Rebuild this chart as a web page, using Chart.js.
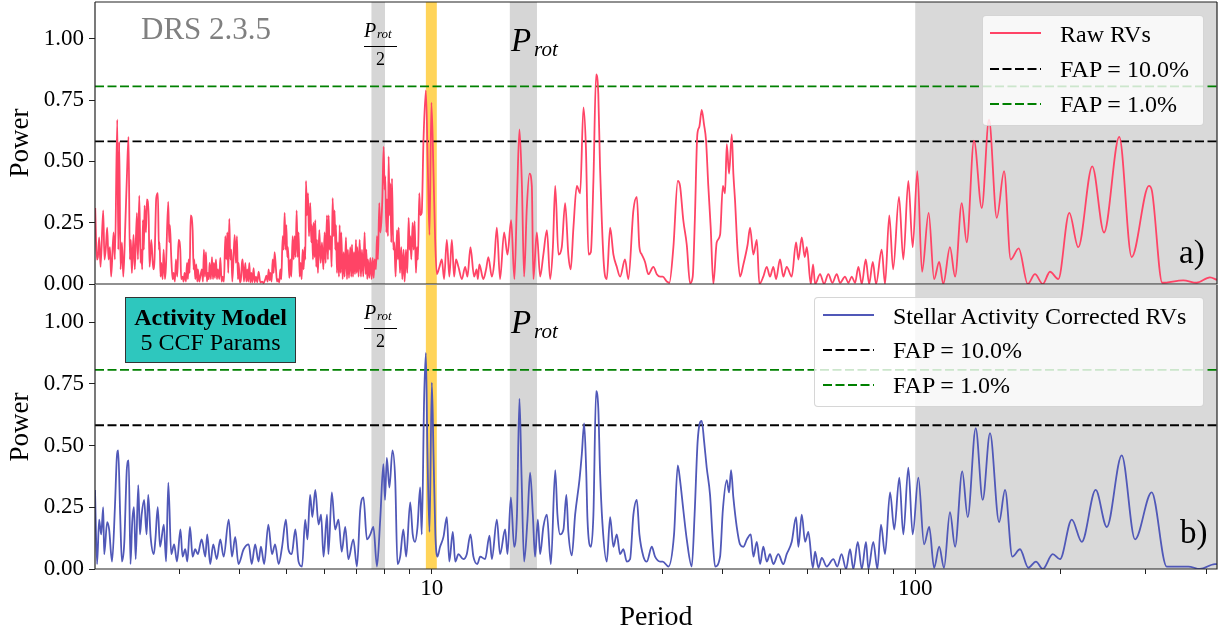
<!DOCTYPE html>
<html><head><meta charset="utf-8">
<script src="https://cdn.jsdelivr.net/npm/chart.js@4.4.1/dist/chart.umd.min.js"></script>
<style>
html,body{margin:0;padding:0;background:#fff;}
#wrap{position:relative;width:1223px;height:637px;overflow:hidden;font-family:"Liberation Serif","Times New Roman",serif;color:#000;}
canvas{position:absolute;left:0;}
#cTop{top:0;}
#cBot{top:280px;}
.t{position:absolute;white-space:nowrap;line-height:1;}
.it{font-style:italic;}
.bar{position:absolute;height:1.3px;background:#000;}
.lgbox{position:absolute;background:rgba(255,255,255,0.8);border:1px solid rgba(204,204,204,0.8);border-radius:4px;box-sizing:border-box;}
.smp{position:absolute;width:51px;height:4px;overflow:visible;}
.lgt{position:absolute;white-space:nowrap;line-height:1;font-size:24px;}
</style>
</head>
<body>
<div id="wrap">
<canvas id="cTop" width="1223" height="300" style="width:1223px;height:300px"></canvas>
<canvas id="cBot" width="1223" height="357" style="width:1223px;height:357px"></canvas>

<div class="t" style="left:141px;top:13px;font-size:31px;color:#808080">DRS 2.3.5</div>

<div class="t it" style="left:364px;top:20px;font-size:20px">P</div>
<div class="t it" style="left:377px;top:27px;font-size:13px">rot</div>
<div class="bar" style="left:364px;top:46px;width:33px"></div>
<div class="t" style="left:376px;top:50px;font-size:18px">2</div>
<div class="t it" style="left:511px;top:24px;font-size:33px">P</div>
<div class="t it" style="left:534px;top:39px;font-size:21px">rot</div>
<div class="t" style="left:1179px;top:236px;font-size:33px">a)</div>

<div class="t it" style="left:364px;top:302px;font-size:20px">P</div>
<div class="t it" style="left:377px;top:309px;font-size:13px">rot</div>
<div class="bar" style="left:364px;top:328px;width:33px"></div>
<div class="t" style="left:376px;top:332px;font-size:18px">2</div>
<div class="t it" style="left:511px;top:306px;font-size:33px">P</div>
<div class="t it" style="left:534px;top:321px;font-size:21px">rot</div>
<div class="t" style="left:1180px;top:516px;font-size:33px">b)</div>

<div style="position:absolute;left:125px;top:297px;width:171px;height:66px;box-sizing:border-box;border:1.5px solid #333;background:#2EC7BE;"></div>
<div class="t" style="left:125px;width:171px;text-align:center;top:305px;font-size:24px;font-weight:bold">Activity Model</div>
<div class="t" style="left:125px;width:171px;text-align:center;top:330px;font-size:24px">5 CCF Params</div>

<div class="lgbox" style="left:982px;top:15px;width:222px;height:111px"></div>
<svg class="smp" style="left:990px;top:31px"><line x1="0" y1="2" x2="51" y2="2" stroke="#FF4466" stroke-width="2"/></svg>
<svg class="smp" style="left:990px;top:67px"><line x1="0" y1="2" x2="51" y2="2" stroke="#000" stroke-width="2" stroke-dasharray="9 3.5"/></svg>
<svg class="smp" style="left:990px;top:102px"><line x1="0" y1="2" x2="51" y2="2" stroke="#008000" stroke-width="2" stroke-dasharray="9 3.5"/></svg>
<div class="lgt" style="left:1060px;top:22px">Raw RVs</div>
<div class="lgt" style="left:1060px;top:57px">FAP = 10.0%</div>
<div class="lgt" style="left:1060px;top:92px">FAP = 1.0%</div>

<div class="lgbox" style="left:814px;top:297px;width:390px;height:110px"></div>
<svg class="smp" style="left:823px;top:313px"><line x1="0" y1="2" x2="51" y2="2" stroke="#5058B8" stroke-width="2"/></svg>
<svg class="smp" style="left:823px;top:348px"><line x1="0" y1="2" x2="51" y2="2" stroke="#000" stroke-width="2" stroke-dasharray="9 3.5"/></svg>
<svg class="smp" style="left:823px;top:383px"><line x1="0" y1="2" x2="51" y2="2" stroke="#008000" stroke-width="2" stroke-dasharray="9 3.5"/></svg>
<div class="lgt" style="left:893px;top:304px">Stellar Activity Corrected RVs</div>
<div class="lgt" style="left:893px;top:338px">FAP = 10.0%</div>
<div class="lgt" style="left:893px;top:373px">FAP = 1.0%</div>
</div>

<script>
// ---------------- data ----------------
const xLimits = [2.01, 421];
const yLimits = [0, 1.15];
const yTicks = [0, 0.25, 0.5, 0.75, 1.0];
const xTicks = [3,4,5,6,7,8,9,10,20,30,40,50,60,70,80,90,100,200,300,400];
const xTickLabels = [10, 100];
const fap10 = 0.582;
const fap1 = 0.806;
const rotHalfBand = [7.5, 8.0];
const planetBand = [9.72, 10.24];
const rotBand = [14.5, 16.5];
const longBand = [100, 421];

const rawPeriod = [
2.012,2.028,2.038,2.050,2.064,2.090,2.103,2.117,2.130,2.144,
2.158,2.171,2.196,2.210,2.235,2.246,2.256,2.270,2.285,2.300,
2.322,2.340,2.358,2.373,2.384,2.396,2.415,2.430,2.454,2.466,
2.482,2.498,2.505,2.517,2.525,2.537,2.545,2.562,2.574,2.595,
2.607,2.628,2.653,2.669,2.691,2.712,2.725,2.734,2.747,2.756,
2.774,2.787,2.805,2.818,2.849,2.863,2.872,2.890,2.909,2.923,
2.941,2.955,2.974,2.993,3.017,3.031,3.051,3.065,3.080,3.100,
3.115,3.129,3.140,3.155,3.170,3.200,3.215,3.225,3.241,3.256,
3.272,3.282,3.303,3.319,3.345,3.361,3.377,3.393,3.410,3.426,
3.442,3.458,3.469,3.491,3.509,3.526,3.542,3.559,3.576,3.593,
3.610,3.634,3.651,3.674,3.692,3.715,3.739,3.757,3.775,3.792,
3.811,3.829,3.847,3.866,3.909,3.933,3.952,3.971,3.984,4.009,
4.028,4.048,4.061,4.087,4.113,4.133,4.152,4.172,4.192,4.212,
4.232,4.252,4.279,4.299,4.327,4.354,4.382,4.417,4.453,4.488,
4.524,4.546,4.574,4.596,4.618,4.633,4.662,4.685,4.707,4.729,
4.760,4.783,4.805,4.836,4.859,4.882,4.914,4.937,4.960,4.984,
5.000,5.023,5.039,5.072,5.096,5.120,5.153,5.178,5.202,5.227,
5.252,5.277,5.302,5.327,5.353,5.378,5.404,5.430,5.455,5.474,
5.491,5.518,5.544,5.570,5.605,5.632,5.650,5.677,5.695,5.722,
5.740,5.767,5.786,5.813,5.851,5.888,5.926,5.964,6.001,6.030,
6.068,6.096,6.117,6.146,6.175,6.204,6.235,6.264,6.294,6.314,
6.334,6.364,6.394,6.425,6.446,6.476,6.496,6.539,6.570,6.601,
6.643,6.675,6.706,6.739,6.781,6.813,6.836,6.869,6.901,6.934,
6.967,6.989,7.011,7.056,7.090,7.134,7.169,7.215,7.260,7.296,
7.319,7.353,7.377,7.424,7.459,7.506,7.543,7.579,7.614,7.663,
7.700,7.736,7.786,7.823,7.860,7.899,7.949,7.986,8.012,8.050,
8.076,8.114,8.140,8.179,8.205,8.243,8.271,8.324,8.363,8.416,
8.470,8.510,8.538,8.592,8.646,8.688,8.743,8.784,8.841,8.897,
8.954,8.997,9.025,9.068,9.126,9.169,9.213,9.272,9.316,9.360,
9.421,9.466,
9.53,9.61,9.72,9.81,9.89,9.98,10.08,10.16,10.24,10.37,
10.49,10.60,10.74,10.87,11.00,11.12,11.22,11.35,11.54,11.72,
11.85,12.02,12.23,12.38,12.45,12.54,12.78,12.95,13.09,13.31,
13.45,13.63,13.84,14.11,14.34,14.59,14.82,15.00,15.18,15.36,
15.52,15.72,15.92,16.10,16.22,16.49,16.75,17.01,17.30,17.57,
17.80,18.00,18.28,18.57,18.87,19.16,19.38,19.63,19.95,20.27,
20.59,20.83,21.09,21.33,21.59,21.87,22.10,22.28,22.47,22.71,
23.01,23.38,23.75,24.13,24.52,25.10,25.50,26.12,26.55,26.88,
27.19,27.61,28.05,28.73,29.20,29.67,30.04,30.62,31.00,31.60,
32.27,32.62,33.13,33.68,34.21,34.65,35.00,35.42,35.75,36.17,
36.57,36.92,37.32,37.75,38.23,38.85,39.47,40.00,40.42,40.75,
41.20,41.73,42.05,42.39,42.86,43.41,44.11,45.00,45.54,46.26,
47.02,47.60,48.50,49.30,50.07,50.87,51.53,52.51,53.35,54.21,
55.53,56.69,57.32,58.25,59.07,59.67,60.80,61.47,62.07,63.56,
64.78,66.11,67.39,68.81,69.90,71.58,72.72,73.91,75.08,76.28,
77.53,79.00,80.30,81.70,82.98,85.24,86.60,88.38,90.00,92.57,
94.48,96.77,98.80,101.0,103.3,106.6,109.4,112.1,114.3,118.0,
120.9,124.8,127.8,132.3,137.3,142.1,147.5,152.7,157.6,163.7,
170.9,176.9,183.6,190.0,197.7,208.3,217.4,232.4,245.8,264.3,
280.4,304.4,308.8,324.4,358.5,382.1,407.1,421.0
];
const rawPower = [
0.31,0.10,0.11,0.19,0.07,0.30,0.10,0.15,0.23,0.10,
0.15,0.03,0.21,0.10,0.67,0.14,0.58,0.06,0.17,0.03,
0.24,0.44,0.60,0.10,0.18,0.045,0.20,0.06,0.29,0.10,
0.36,0.086,0.14,0.06,0.26,0.14,0.32,0.21,0.345,0.28,
0.07,0.18,0.06,0.10,0.35,0.37,0.14,0.17,0.03,0.086,
0.02,0.14,0.02,0.07,0.335,0.17,0.24,0.11,0.02,0.045,
0.01,0.10,0.03,0.18,0.14,0.02,0.03,0.01,0.045,0.01,
0.086,0.02,0.10,0.045,0.28,0.22,0.06,0.10,0.02,0.08,
0.01,0.06,0.01,0.03,0.06,0.01,0.14,0.03,0.13,0.01,
0.045,0.02,0.086,0.02,0.11,0.02,0.086,0.025,0.10,0.02,
0.06,0.02,0.106,0.01,0.03,0.01,0.195,0.10,0.21,0.045,
0.265,0.10,0.14,0.01,0.20,0.086,0.195,0.02,0.086,0.007,
0.02,0.086,0.10,0.01,0.086,0.01,0.06,0.01,0.086,0.007,
0.045,0.007,0.065,0.007,0.03,0.007,0.05,0.007,0.01,0.004,
0.02,0.034,0.01,0.06,0.015,0.045,0.01,0.10,0.045,0.13,
0.06,0.01,0.02,0.007,0.06,0.02,0.195,0.14,0.29,0.14,
0.24,0.11,0.15,0.025,0.10,0.03,0.195,0.10,0.195,0.11,
0.30,0.11,0.21,0.03,0.086,0.02,0.14,0.06,0.15,0.10,
0.42,0.28,0.37,0.195,0.33,0.17,0.24,0.10,0.25,0.11,
0.26,0.07,0.18,0.045,0.22,0.086,0.17,0.06,0.21,0.086,
0.28,0.10,0.28,0.14,0.195,0.07,0.35,0.195,0.30,0.14,
0.24,0.045,0.17,0.03,0.24,0.045,0.21,0.02,0.13,0.03,
0.19,0.02,0.14,0.025,0.15,0.03,0.16,0.03,0.13,0.04,
0.18,0.045,0.15,0.03,0.18,0.03,0.14,0.03,0.21,0.04,
0.14,0.02,0.10,0.025,0.106,0.02,0.106,0.025,0.10,0.06,
0.195,0.10,0.33,0.21,0.25,0.345,0.56,0.385,0.44,0.21,
0.345,0.195,0.52,0.28,0.41,0.17,0.43,0.14,0.17,0.03,
0.22,0.10,0.23,0.045,0.15,0.02,0.14,0.01,0.14,0.045,
0.27,0.14,0.195,0.10,0.25,0.14,0.256,0.045,0.15,0.10,
0.37,0.28,
0.29,0.585,0.79,0.48,0.20,0.74,0.45,0.18,0.04,0.07,
0.10,0.02,0.18,0.03,0.18,0.03,0.10,0.07,0.02,0.07,
0.03,0.15,0.03,0.06,0.02,0.08,0.02,0.06,0.11,0.03,
0.08,0.23,0.02,0.21,0.12,0.26,0.02,0.34,0.63,0.40,
0.03,0.31,0.45,0.40,0.02,0.21,0.03,0.12,0.22,0.02,
0.15,0.40,0.12,0.15,0.33,0.12,0.06,0.23,0.40,0.37,
0.72,0.56,0.12,0.13,0.42,0.855,0.775,0.48,0.26,0.07,
0.02,0.23,0.12,0.07,0.03,0.10,0.02,0.30,0.355,0.15,
0.12,0.09,0.04,0.07,0.04,0.03,0.03,0.01,0.005,0.15,
0.42,0.40,0.26,0.16,0.003,0.03,0.26,0.61,0.64,0.71,
0.65,0.585,0.40,0.23,0.00,0.17,0.20,0.40,0.37,0.57,
0.45,0.61,0.45,0.34,0.15,0.03,0.08,0.16,0.23,0.12,
0.18,0.00,0.03,0.07,0.03,0.07,0.02,0.10,0.03,0.07,
0.03,0.17,0.10,0.19,0.11,0.15,0.00,0.08,0.00,0.04,
0.00,0.04,0.005,0.04,0.005,0.03,0.005,0.03,0.005,0.07,
0.00,0.10,0.00,0.09,0.00,0.14,0.00,0.28,0.06,0.355,
0.10,0.42,0.15,0.46,0.05,0.29,0.02,0.09,0.00,0.15,
0.03,0.33,0.17,0.585,0.31,0.67,0.27,0.46,0.10,0.145,
0.00,0.04,0.00,0.05,0.02,0.29,0.15,0.48,0.21,0.60,
0.11,0.40,0.38,0.005,0.015,0.005,0.027,0.017
];

const corrPeriod = [
2.01,2.03,2.05,2.07,2.09,2.10,2.13,2.15,2.18,2.21,
2.23,2.245,2.266,2.285,2.31,2.34,2.36,2.38,2.40,2.42,
2.44,2.47,2.49,2.51,2.54,2.57,2.59,2.62,2.66,2.68,
2.71,2.74,2.79,2.82,2.85,2.89,2.93,2.97,3.02,3.05,
3.09,3.12,3.16,3.20,3.24,3.28,3.34,3.40,3.43,3.48,
3.53,3.59,3.65,3.71,3.80,3.86,3.92,3.98,4.08,4.18,
4.24,4.31,4.38,4.43,4.50,4.59,4.67,4.74,4.82,4.90,
4.99,5.05,5.13,5.22,5.30,5.39,5.47,5.53,5.60,5.66,
5.74,5.83,5.90,5.97,6.07,6.11,6.21,6.31,6.41,6.51,
6.62,6.72,6.88,7.00,7.11,7.22,7.34,7.46,7.57,7.70,
7.82,7.94,8.00,8.07,8.17,8.29,8.40,8.49,8.60,8.73,
8.85,9.02,9.13,9.23,9.34,9.46,9.53,9.64,9.72,9.79,
9.89,10.00,10.08,10.17,10.27,10.40,10.57,10.74,10.87,11.05,
11.18,11.35,11.62,11.81,12.02,12.19,12.42,12.59,12.89,13.16,
13.31,13.63,13.84,14.18,14.34,14.57,14.80,15.00,15.18,15.33,
15.52,15.77,15.97,16.18,16.35,16.57,16.75,17.01,17.30,17.63,
18.00,18.19,18.42,18.72,18.98,19.16,19.48,19.79,20.20,20.43,
20.66,20.86,20.99,21.33,21.59,21.87,22.10,22.28,22.53,23.01,
23.38,23.75,24.13,24.52,24.90,25.31,25.71,26.12,26.55,26.88,
27.40,27.84,28.51,28.96,29.67,30.04,30.86,31.70,32.27,32.62,
33.13,33.68,34.49,34.96,35.48,36.17,36.57,37.04,37.63,38.11,
38.54,39.47,40.00,40.75,41.20,41.59,42.05,42.74,43.41,44.11,
44.85,45.69,46.26,47.02,47.76,48.50,49.30,50.07,50.87,52.09,
53.35,54.21,55.53,56.69,57.32,58.25,59.18,60.10,61.41,62.07,
63.05,64.07,65.61,67.70,68.97,70.40,71.93,73.31,74.47,76.06,
77.53,79.10,80.00,81.90,83.50,84.96,86.60,88.70,90.50,92.70,
94.48,96.77,98.80,101.5,104.3,106.9,109.4,112.1,114.7,118.0,
120.9,125.1,128.4,133.4,137.9,142.8,149.1,153.4,158.8,164.7,
171.4,177.7,183.6,192.5,199.3,210.8,221.1,236.2,249.1,267.4,
284.9,308.4,331.2,367.3,388.2,416.7,421.0
];
const corrPower = [
0.32,0.02,0.20,0.14,0.25,0.06,0.19,0.16,0.03,0.25,
0.45,0.48,0.22,0.03,0.10,0.41,0.44,0.02,0.19,0.25,
0.04,0.34,0.14,0.22,0.28,0.14,0.30,0.13,0.06,0.12,
0.25,0.09,0.18,0.03,0.35,0.06,0.10,0.03,0.16,0.05,
0.08,0.03,0.17,0.05,0.08,0.06,0.12,0.05,0.14,0.02,
0.10,0.04,0.12,0.05,0.20,0.05,0.13,0.02,0.08,0.10,
0.02,0.10,0.03,0.09,0.02,0.18,0.06,0.10,0.02,0.09,
0.20,0.08,0.06,0.16,0.03,0.01,0.20,0.12,0.30,0.21,
0.32,0.18,0.22,0.05,0.22,0.06,0.31,0.16,0.20,0.07,
0.17,0.04,0.12,0.01,0.24,0.29,0.12,0.14,0.17,0.01,
0.20,0.425,0.28,0.45,0.33,0.48,0.36,0.02,0.05,0.16,
0.05,0.27,0.14,0.11,0.17,0.33,0.14,0.69,0.875,0.49,
0.15,0.755,0.465,0.14,0.05,0.09,0.13,0.21,0.03,0.15,
0.03,0.06,0.04,0.06,0.14,0.05,0.02,0.05,0.04,0.135,
0.04,0.20,0.06,0.16,0.06,0.29,0.09,0.22,0.69,0.38,
0.03,0.20,0.39,0.22,0.05,0.20,0.06,0.17,0.22,0.02,
0.40,0.22,0.14,0.16,0.30,0.15,0.055,0.22,0.36,0.465,
0.59,0.40,0.20,0.09,0.22,0.72,0.65,0.40,0.19,0.03,
0.21,0.09,0.14,0.06,0.08,0.03,0.04,0.22,0.28,0.14,
0.05,0.03,0.09,0.05,0.03,0.03,0.01,0.14,0.42,0.36,
0.24,0.12,0.01,0.22,0.52,0.60,0.52,0.41,0.30,0.12,
0.01,0.05,0.24,0.36,0.31,0.40,0.29,0.17,0.10,0.09,
0.12,0.14,0.05,0.11,0.02,0.09,0.03,0.06,0.02,0.06,
0.02,0.06,0.11,0.21,0.09,0.22,0.11,0.15,0.005,0.07,
0.005,0.045,0.01,0.04,0.01,0.06,0.00,0.08,0.00,0.11,
0.00,0.11,0.00,0.11,0.00,0.18,0.06,0.31,0.16,0.37,
0.14,0.41,0.14,0.37,0.10,0.17,0.005,0.09,0.005,0.23,
0.09,0.395,0.21,0.57,0.28,0.55,0.19,0.32,0.05,0.08,
0.005,0.03,0.00,0.06,0.04,0.20,0.11,0.32,0.17,0.46,
0.12,0.31,0.01,0.01,0.00,0.02,0.02
];

// ---------------- styles ----------------
const FONT = 'Liberation Serif';
const RED = '#FF4466';
const BLUE = '#5058B8';
const bands = [
  {range: longBand, color: '#d9d9d9'},
  {range: rotHalfBand, color: '#d6d6d6'},
  {range: rotBand, color: '#d6d6d6'},
  {range: planetBand, color: '#FFD459'}
];

const bandsPlugin = {
  id: 'bands',
  beforeDatasetsDraw(chart) {
    const {ctx, chartArea: a, scales: {x}} = chart;
    ctx.save();
    for (const b of bands) {
      const x0 = Math.max(a.left, x.getPixelForValue(b.range[0]));
      const x1 = Math.min(a.right, x.getPixelForValue(b.range[1]));
      ctx.fillStyle = b.color;
      ctx.fillRect(x0, a.top, x1 - x0, a.bottom - a.top);
    }
    ctx.restore();
  }
};
function framePlugin(drawTop) {
  return {
    id: 'frame',
    afterDatasetsDraw(chart) {
      const {ctx, chartArea: a} = chart;
      ctx.save();
      ctx.strokeStyle = '#222';
      ctx.lineWidth = 1.2;
      ctx.beginPath();
      if (drawTop) { ctx.moveTo(a.left, a.top); ctx.lineTo(a.right, a.top); }
      ctx.moveTo(a.right, a.top); ctx.lineTo(a.right, a.bottom);
      ctx.lineTo(a.left, a.bottom); ctx.lineTo(a.left, a.top);
      ctx.stroke();
      ctx.restore();
    }
  };
}

function pts(px, py) { return px.map((p, i) => ({x: p, y: py[i]})); }

function makeChart(id, periods, powers, color, label, showX, pad) {
  return new Chart(document.getElementById(id), {
    type: 'line',
    data: {
      datasets: [
        {label: label, data: pts(periods, powers), borderColor: color, borderWidth: 1.8,
         pointRadius: 0, cubicInterpolationMode: 'monotone', fill: false},
        {label: 'FAP = 10.0%', data: pts(xLimits, [fap10, fap10]), borderColor: '#000',
         borderWidth: 1.8, borderDash: [9, 3.5], pointRadius: 0, fill: false},
        {label: 'FAP = 1.0%', data: pts(xLimits, [fap1, fap1]), borderColor: '#008000',
         borderWidth: 1.8, borderDash: [9, 3.5], pointRadius: 0, fill: false}
      ]
    },
    options: {
      responsive: false, animation: false, devicePixelRatio: 1,
      layout: {padding: pad},
      plugins: {legend: {display: false}, tooltip: {enabled: false}},
      scales: {
        x: {
          type: 'logarithmic', min: xLimits[0], max: xLimits[1], display: showX,
          afterBuildTicks: s => { s.ticks = xTicks.map(v => ({value: v, major: xTickLabels.includes(v)})); },
          afterFit: s => { s.height = showX ? 68 : 0; s.paddingLeft = 0; s.paddingRight = 0; },
          ticks: {autoSkip: false, maxRotation: 0, padding: 1, color: '#000',
                  font: {family: FONT, size: 23},
                  callback: v => xTickLabels.includes(v) ? String(v) : ''},
          grid: {drawOnChartArea: false, tickLength: 5, color: '#222'},
          border: {display: false},
          title: {display: showX, text: 'Period', color: '#000', font: {family: FONT, size: 28},
                  padding: {top: 0, bottom: 3}}
        },
        y: {
          type: 'linear', min: yLimits[0], max: yLimits[1],
          afterBuildTicks: s => { s.ticks = yTicks.map(v => ({value: v})); },
          afterFit: s => { s.width = 95; s.paddingTop = 0; s.paddingBottom = 0; },
          ticks: {padding: 5, color: '#000', font: {family: FONT, size: 23},
                  callback: v => Number(v).toFixed(2)},
          grid: {drawOnChartArea: false, tickLength: 6, color: '#222'},
          border: {display: false},
          title: {display: true, text: 'Power', color: '#000', font: {family: FONT, size: 27},
                  padding: {top: 5, bottom: 0}}
        }
      }
    },
    plugins: [bandsPlugin, framePlugin(!showX)]
  });
}

makeChart('cTop', rawPeriod, rawPower, RED, 'Raw RVs', false, {left: 0, right: 6, top: 2, bottom: 16});
makeChart('cBot', corrPeriod, corrPower, BLUE, 'Stellar Activity Corrected RVs', true, {left: 0, right: 6, top: 5, bottom: 0});
</script>
</body></html>
